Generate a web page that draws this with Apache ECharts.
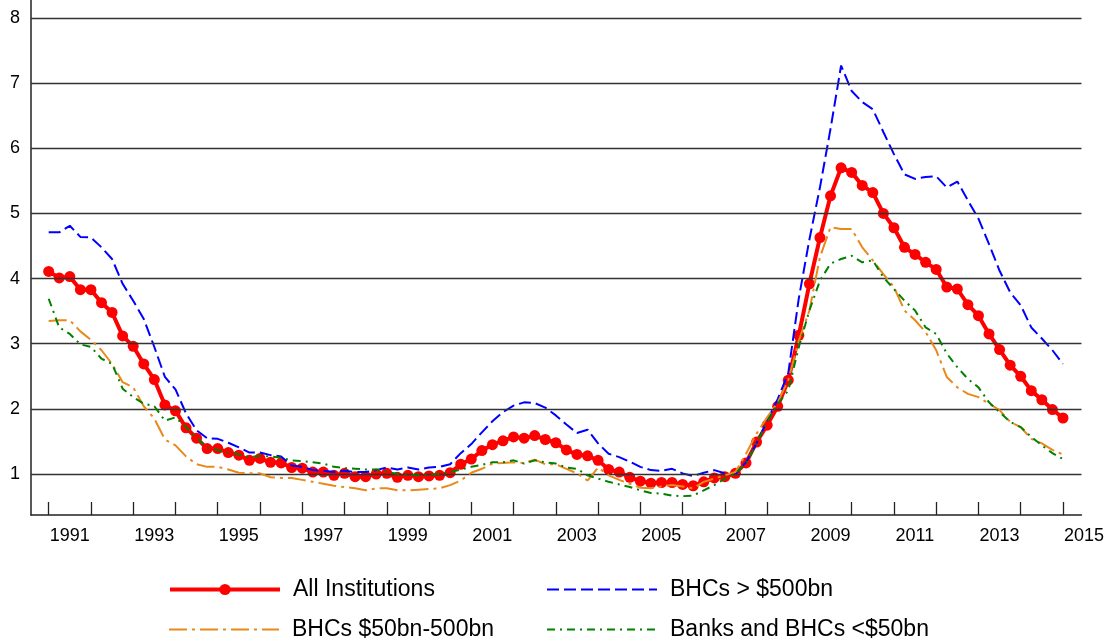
<!DOCTYPE html>
<html><head><meta charset="utf-8">
<script src="https://cdn.jsdelivr.net/npm/echarts@6.0.0/dist/echarts.min.js"></script>
<style>html,body{margin:0;padding:0;background:#fff}#chart{width:1107px;height:643px}</style>
</head><body><div id="chart"></div>
<script>
// Quarterly observations, first point = start of 1991 tick, last = start of 2015 tick
const yearLabels = ['1991','1993','1995','1997','1999','2001','2003','2005','2007','2009','2011','2013','2015'];
const yTickValues = [1, 2, 3, 4, 5, 6, 7, 8];
const xTickValues = [0,4,8,12,16,20,24,28,32,36,40,44,48,52,56,60,64,68,72,76,80,84,88,92,96];
const xLabelValues = [0,8,16,24,32,40,48,56,64,72,80,88,96];

const allInstitutions = [
 4.11,4.01,4.03,3.83,3.83,3.63,3.48,3.12,2.96,2.69,
 2.45,2.06,1.97,1.71,1.55,1.39,1.39,1.33,1.29,1.21,
 1.24,1.18,1.17,1.10,1.09,1.03,1.03,0.98,1.01,0.96,
 0.96,1.00,1.01,0.95,0.98,0.96,0.97,0.98,1.02,1.15,
 1.23,1.36,1.45,1.51,1.57,1.55,1.59,1.53,1.48,1.37,
 1.30,1.28,1.21,1.07,1.03,0.95,0.89,0.86,0.87,0.87,
 0.84,0.82,0.88,0.94,0.96,1.01,1.17,1.49,1.75,2.04,
 2.44,3.13,3.92,4.63,5.27,5.70,5.63,5.43,5.32,5.00,
 4.78,4.48,4.37,4.25,4.14,3.87,3.84,3.60,3.43,3.15,
 2.91,2.67,2.50,2.28,2.14,1.99,1.86
];
const bhcsOver500 = [
 4.71,4.71,4.81,4.64,4.63,4.48,4.30,3.92,3.66,3.38,
 2.95,2.49,2.30,1.93,1.67,1.55,1.54,1.48,1.41,1.33,
 1.33,1.29,1.27,1.13,1.11,1.06,1.05,1.03,1.05,1.03,
 1.03,1.06,1.10,1.07,1.10,1.07,1.10,1.11,1.15,1.32,
 1.46,1.64,1.81,1.95,2.05,2.10,2.09,2.02,1.90,1.76,
 1.63,1.68,1.47,1.31,1.26,1.19,1.11,1.06,1.05,1.08,
 1.01,0.97,1.02,1.06,1.01,1.00,1.18,1.47,1.82,2.15,
 2.55,3.70,4.60,5.40,6.30,7.27,6.88,6.71,6.60,6.25,
 5.91,5.60,5.53,5.56,5.57,5.40,5.49,5.20,4.92,4.53,
 4.12,3.79,3.59,3.25,3.08,2.90,2.69
];
const bhcs50to500 = [
 3.35,3.36,3.36,3.19,3.06,2.90,2.69,2.41,2.33,2.04,
 1.85,1.53,1.44,1.27,1.15,1.11,1.11,1.07,1.02,1.01,
 1.01,0.95,0.94,0.94,0.91,0.88,0.85,0.82,0.80,0.78,
 0.75,0.78,0.78,0.75,0.75,0.76,0.77,0.78,0.83,0.90,
 1.02,1.08,1.16,1.17,1.18,1.17,1.22,1.15,1.15,1.08,
 1.01,0.90,1.10,0.98,0.91,0.85,0.79,0.78,0.81,0.83,
 0.81,0.78,0.88,0.93,0.98,1.03,1.31,1.62,1.87,2.10,
 2.44,3.05,3.51,4.33,4.79,4.76,4.76,4.48,4.28,4.07,
 3.87,3.51,3.36,3.18,2.90,2.49,2.33,2.23,2.18,2.08,
 1.98,1.80,1.72,1.54,1.47,1.37,1.30
];
const banksUnder50 = [
 3.69,3.25,3.15,2.99,2.95,2.77,2.69,2.31,2.18,2.08,
 2.04,1.82,1.87,1.72,1.56,1.40,1.37,1.33,1.30,1.26,
 1.28,1.27,1.25,1.21,1.20,1.18,1.16,1.11,1.09,1.08,
 1.07,1.07,1.04,1.00,0.99,0.98,0.99,1.00,1.03,1.07,
 1.11,1.14,1.18,1.18,1.21,1.16,1.21,1.18,1.16,1.10,
 1.08,0.98,0.93,0.88,0.84,0.80,0.75,0.71,0.70,0.67,
 0.66,0.67,0.75,0.83,0.93,1.01,1.16,1.47,1.80,2.08,
 2.28,2.95,3.51,3.97,4.23,4.30,4.35,4.25,4.28,4.02,
 3.84,3.66,3.51,3.25,3.15,2.85,2.64,2.46,2.33,2.10,
 1.95,1.80,1.72,1.57,1.44,1.32,1.23
];

const toXY = arr => arr.map((v, i) => [i, v]);
const FONT = "'Liberation Sans', Arial, sans-serif";

const legendAt = (name, left, top, lineWidth, showSymbol) => ({
  data: [name], left: left, top: top, orient: 'horizontal',
  itemWidth: 110, itemHeight: 14, selectedMode: false, padding: 0,
  lineStyle: { width: lineWidth },
  itemStyle: { opacity: showSymbol ? 1 : 0 },
  textStyle: { fontFamily: FONT, fontSize: 23, color: '#000', padding: [0, 0, 0, 8] }
});

const chart = echarts.init(document.getElementById('chart'), null, { renderer: 'canvas' });
chart.setOption({
  animation: false,
  backgroundColor: '#fff',
  grid: { left: 31, right: 24, top: 0, bottom: 128 },
  legend: [
    legendAt('All Institutions', 168, 578, 4, true),
    legendAt('BHCs > $500bn', 546, 578, 2, false),
    legendAt('BHCs $50bn-500bn', 168, 618, 2, false),
    legendAt('Banks and BHCs <$50bn', 546, 618, 2, false)
  ],
  xAxis: {
    type: 'value', min: -1.673, max: 97.75,
    axisLine: { show: true, onZero: false, lineStyle: { color: '#222', width: 1.5 } },
    axisTick: { show: true, inside: true, length: 13, customValues: xTickValues, lineStyle: { color: '#222', width: 1.3 } },
    axisLabel: {
      customValues: xLabelValues,
      formatter: v => yearLabels[Math.round(v / 8)],
      fontFamily: FONT, fontSize: 18, color: '#000', margin: 12, padding: [0, 0, 0, 42]
    },
    splitLine: { show: false }
  },
  yAxis: {
    type: 'value', min: 0.371, max: 8.276,
    axisLine: { show: true, onZero: false, lineStyle: { color: '#222', width: 1.5 } },
    axisTick: { show: false, customValues: yTickValues },
    axisLabel: { customValues: yTickValues, fontFamily: FONT, fontSize: 18, color: '#000', margin: 11 },
    splitLine: { show: false }
  },
  series: [
    {
      name: 'gridlines', type: 'line', data: [], z: 1, silent: true,
      markLine: {
        silent: true, symbol: ['none', 'none'], label: { show: false },
        emphasis: { disabled: true },
        lineStyle: { color: '#333', width: 1.3, type: 'solid' },
        data: yTickValues.map(v => ({ yAxis: v }))
      }
    },
    {
      name: 'All Institutions', type: 'line', data: toXY(allInstitutions), z: 3,
      symbol: 'circle', symbolSize: 11, showAllSymbol: true,
      lineStyle: { color: '#ff0000', width: 4 }, itemStyle: { color: '#ff0000' }
    },
    {
      name: 'BHCs > $500bn', type: 'line', data: toXY(bhcsOver500), z: 4, symbol: 'none',
      lineStyle: { color: '#0000ff', width: 2, type: [12, 5] }, itemStyle: { color: '#0000ff' }
    },
    {
      name: 'BHCs $50bn-500bn', type: 'line', data: toXY(bhcs50to500), z: 5, symbol: 'none',
      lineStyle: { color: '#e8891a', width: 2, type: [18, 5, 3, 5] }, itemStyle: { color: '#e8891a' }
    },
    {
      name: 'Banks and BHCs <$50bn', type: 'line', data: toXY(banksUnder50), z: 6, symbol: 'none',
      lineStyle: { color: '#008000', width: 2, type: [8, 5, 2, 5] }, itemStyle: { color: '#008000' }
    }
  ]
});
</script>
</body></html>
